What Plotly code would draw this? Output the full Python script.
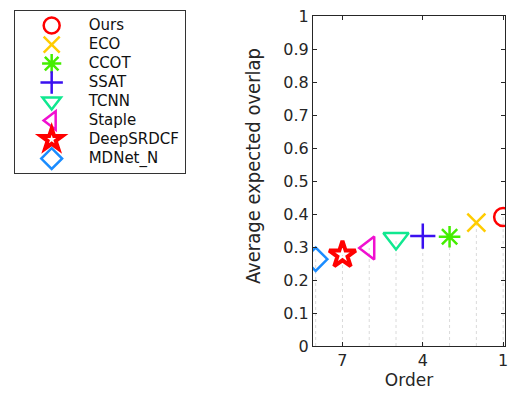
import plotly.graph_objects as go

methods = ["Ours", "ECO", "CCOT", "SSAT", "TCNN", "Staple", "DeepSRDCF", "MDNet_N"]
orders = [1, 2, 3, 4, 5, 6, 7, 8]
eao = [0.391, 0.374, 0.331, 0.333, 0.326, 0.297, 0.276, 0.263]
colors = ["#ff0000", "#ffcc00", "#44ee00", "#3a10f0", "#10e890", "#f010d0", "#ff0000", "#1a8cff"]
symbols = ["circle-open", "x-thin-open", "asterisk-open", "cross-thin-open",
           "triangle-down-open", "triangle-left-open", "star-open", "diamond-open"]
sizes = [18, 18, 18, 18, 22, 20, 20, 18]
x_ticks = [7, 4, 1]
y_ticks = [0, 0.1, 0.2, 0.3, 0.4, 0.5, 0.6, 0.7, 0.8, 0.9, 1]

fig = go.Figure()

# dotted drop lines
for o, v in zip(orders, eao):
    fig.add_trace(go.Scatter(x=[o, o], y=[0, v], mode="lines",
                             line=dict(color="#dadada", width=1, dash="dot"),
                             showlegend=False, hoverinfo="skip"))

for m, o, v, c, s, sz in zip(methods, orders, eao, colors, symbols, sizes):
    lw = 4 if s == "star-open" else 2.5
    fig.add_trace(go.Scatter(
        x=[o], y=[v], mode="markers",
        name="<span style='font-size:15px'>%s</span>" % m,
        marker=dict(symbol=s, size=sz, color=c, line=dict(color=c, width=lw)),
    ))

font_main = "DejaVu Sans"
fig.update_layout(
    width=515, height=394,
    margin=dict(l=313, r=7, t=10, b=48),
    paper_bgcolor="white", plot_bgcolor="white",
    showlegend=True,
    legend=dict(
        x=-1.559, y=1.018, xanchor="left", yanchor="top",
        bordercolor="#333333", borderwidth=1, bgcolor="white",
        font=dict(family=font_main, size=11, color="#111111"),
        itemwidth=64, itemsizing="trace", tracegroupgap=0,
    ),
    xaxis=dict(
        range=[8.1, 0.93], tickvals=x_ticks, ticktext=[str(t) for t in x_ticks],
        ticks="inside", ticklen=4, tickcolor="#262626",
        showline=True, linecolor="#262626", linewidth=1, mirror="ticks",
        showgrid=False, zeroline=False,
        tickfont=dict(family=font_main, size=16, color="#262626"),
        title=dict(text="Order", font=dict(family=font_main, size=17, color="#262626"), standoff=4),
    ),
    yaxis=dict(
        range=[0, 1], tickvals=y_ticks, ticktext=[("%g" % t) for t in y_ticks],
        ticks="inside", ticklen=4, tickcolor="#262626",
        showline=True, linecolor="#262626", linewidth=1, mirror="ticks",
        showgrid=False, zeroline=False,
        tickfont=dict(family=font_main, size=16, color="#262626"),
    ),
    annotations=[dict(
        text="Average expected overlap", xref="paper", yref="paper",
        x=-0.313, y=0.545, xanchor="center", yanchor="middle", textangle=-90,
        showarrow=False,
        font=dict(family="Liberation Sans Narrow, DejaVu Sans Condensed, Roboto Condensed, Roboto", size=20, color="#262626"),
    )],
)

fig.write_html("out.html", config={"displayModeBar": False},
               post_script="document.body.style.margin='0';document.body.style.padding='0';")
